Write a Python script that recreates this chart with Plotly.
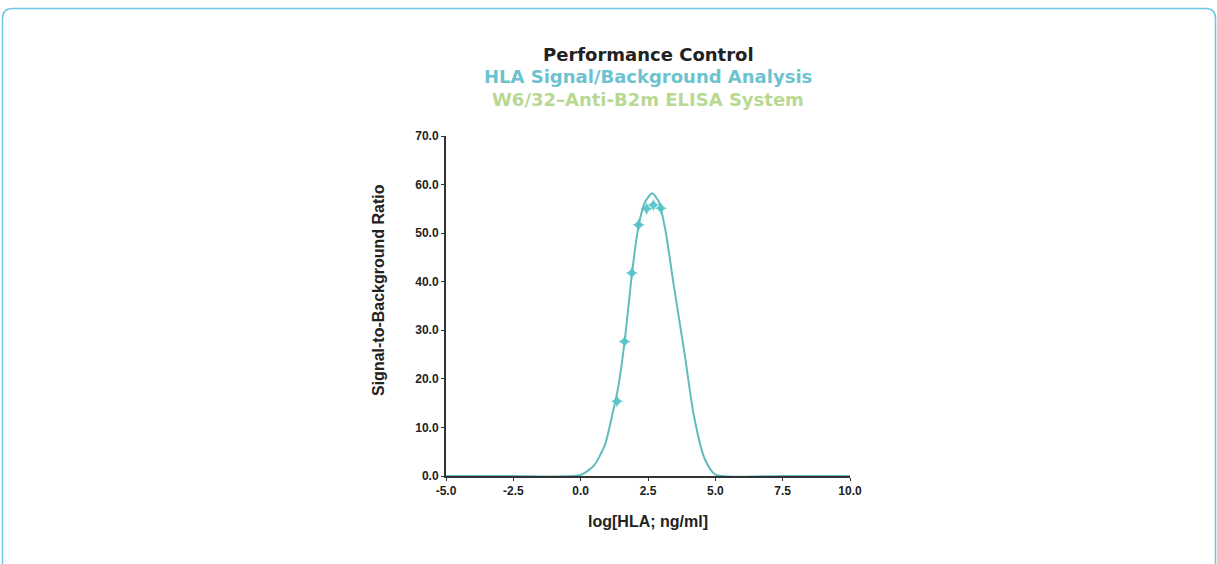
import plotly.graph_objects as go

# Fitted curve
curve_x = [-5.0, -2.5, 0.0, 0.5, 0.9, 1.15, 1.4, 1.65, 1.9, 2.15, 2.4, 2.65, 2.9, 3.15, 3.45, 3.85, 4.2, 4.6, 5.0, 7.5, 10.0]
curve_y = [0.0, 0.0, 0.2, 2.2, 6.4, 12.0, 18.5, 28.5, 41.5, 51.5, 56.5, 58.2, 56.5, 50.5, 39.5, 25.5, 12.5, 3.6, 0.3, 0.0, 0.0]

# Measured points
pts_x = [1.35, 1.63, 1.9, 2.15, 2.45, 2.7, 2.98]
pts_y = [15.4, 27.7, 41.8, 51.7, 55.0, 55.8, 55.1]

x_ticks = [-5.0, -2.5, 0.0, 2.5, 5.0, 7.5, 10.0]
x_tick_text = ["-5.0", "-2.5", "0.0", "2.5", "5.0", "7.5", "10.0"]
y_ticks = [0, 10, 20, 30, 40, 50, 60, 70]
y_tick_text = ["0.0", "10.0", "20.0", "30.0", "40.0", "50.0", "60.0", "70.0"]

W, H = 1217, 564
L, R, T, B = 446, 850, 136, 476

fig = go.Figure()
fig.add_trace(go.Scatter(x=curve_x, y=curve_y, mode="lines",
                         line=dict(color="#62bcbc", width=2, shape="spline", smoothing=0.6),
                         hoverinfo="skip", showlegend=False))
fig.add_trace(go.Scatter(x=pts_x, y=pts_y, mode="markers",
                         marker=dict(symbol="star-diamond", size=9, color="#4cc2c4", opacity=0.9),
                         showlegend=False))

def px(xp):
    return (xp - L) / (R - L)

def py(yp):
    return (B - yp) / (B - T)

# rounded border frame
x0, x1, y0, y1, r = 2.5, 1215.5, 8.5, 620, 10
path = (f"M {px(x0)},{py(y1)} L {px(x0)},{py(y0 + r)} "
        f"Q {px(x0)},{py(y0)} {px(x0 + r)},{py(y0)} "
        f"L {px(x1 - r)},{py(y0)} Q {px(x1)},{py(y0)} {px(x1)},{py(y0 + r)} "
        f"L {px(x1)},{py(y1)}")
fig.add_shape(type="path", path=path, xref="paper", yref="paper",
              line=dict(color="#6cc8e2", width=1.5), layer="below")

title_lines = [
    ("Performance Control", 55, 18, "#222222"),
    ("HLA Signal/Background Analysis", 77, 18, "#6cc3cf"),
    ("W6/32–Anti-B2m ELISA System", 100, 18, "#b9d993"),
]
for txt, yy, fs, col in title_lines:
    fig.add_annotation(text=txt, x=px(648), y=py(yy), xref="paper", yref="paper",
                       xanchor="center", yanchor="middle", showarrow=False,
                       font=dict(family="DejaVu Sans", size=fs, color=col, weight="bold"))

fig.add_annotation(text="Signal-to-Background Ratio", x=px(378), y=py(290), xref="paper", yref="paper",
                   xanchor="center", yanchor="middle", showarrow=False, textangle=-90,
                   font=dict(family="Liberation Sans", size=16, color="#222222", weight="bold"))

axis_common = dict(showgrid=False, zeroline=False, showline=True, linecolor="#333333", linewidth=2,
                   ticks="outside", ticklen=3, tickcolor="#333333",
                   tickfont=dict(size=12, color="#222222", family="Liberation Sans", weight="bold"))

fig.update_layout(
    width=W, height=H,
    margin=dict(l=L, r=W - R, t=T, b=H - B),
    paper_bgcolor="white", plot_bgcolor="white",
    font=dict(family="Liberation Sans", color="#222222"),
    xaxis=dict(range=[-5, 10], tickvals=x_ticks, ticktext=x_tick_text,
               title=dict(text="log[HLA; ng/ml]", font=dict(size=16, family="Liberation Sans", weight="bold"), standoff=18),
               **axis_common),
    yaxis=dict(range=[0, 70], tickvals=y_ticks, ticktext=y_tick_text, **axis_common),
)

fig.write_html("out.html")
